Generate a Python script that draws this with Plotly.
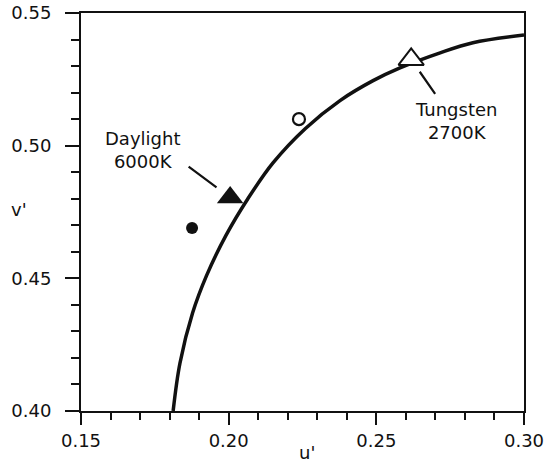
import plotly.graph_objects as go

# Planckian locus
locus_u = [0.1812, 0.1835, 0.1878, 0.1925, 0.1990, 0.2065, 0.2150, 0.2260, 0.2377,
           0.2489, 0.2580, 0.2716, 0.2827, 0.3000]
locus_v = [0.4000, 0.4180, 0.4370, 0.4510, 0.4660, 0.4800, 0.4935, 0.5065, 0.5170,
           0.5245, 0.5293, 0.5350, 0.5388, 0.5417]

# measured points
filled_circle = (0.1876, 0.469)
open_circle = (0.2238, 0.510)
daylight = (0.2005, 0.4805)
tungsten = (0.2618, 0.5325)

x_ticks = [0.15, 0.20, 0.25, 0.30]
x_tick_labels = ["0.15", "0.20", "0.25", "0.30"]
y_ticks = [0.40, 0.45, 0.50, 0.55]
y_tick_labels = ["0.40", "0.45", "0.50", "0.55"]

FONT = "DejaVu Sans"
BLACK = "#111111"

fig = go.Figure()
fig.add_trace(go.Scatter(x=locus_u, y=locus_v, mode="lines",
                         line=dict(color=BLACK, width=3.5, shape="spline", smoothing=1),
                         hoverinfo="skip", showlegend=False))
fig.add_trace(go.Scatter(x=[filled_circle[0]], y=[filled_circle[1]], mode="markers",
                         marker=dict(symbol="circle", size=12, color=BLACK),
                         showlegend=False))
fig.add_trace(go.Scatter(x=[open_circle[0]], y=[open_circle[1]], mode="markers",
                         marker=dict(symbol="circle-open", size=12, color=BLACK,
                                     line=dict(width=2.2, color=BLACK)),
                         showlegend=False))
fig.add_trace(go.Scatter(x=[daylight[0]], y=[daylight[1]], mode="markers",
                         marker=dict(symbol="triangle-up", size=23, color=BLACK),
                         showlegend=False))
fig.add_trace(go.Scatter(x=[tungsten[0]], y=[tungsten[1]], mode="markers",
                         marker=dict(symbol="triangle-up", size=22, color="white",
                                     line=dict(width=2, color=BLACK)),
                         showlegend=False))

axis_common = dict(
    showline=True, linewidth=2, linecolor=BLACK, mirror=True,
    ticks="outside", tickwidth=2, tickcolor=BLACK,
    showgrid=False, zeroline=False, automargin=False,
    tickfont=dict(family=FONT, size=18, color=BLACK),
)

fig.update_xaxes(range=[0.15, 0.30], tickvals=x_ticks, ticktext=x_tick_labels,
                 ticklen=12,
                 minor=dict(ticks="outside", ticklen=7, tickwidth=2, tickcolor=BLACK,
                            dtick=0.01, tick0=0.15, showgrid=False),
                 **axis_common)
fig.update_yaxes(range=[0.40, 0.55], tickvals=y_ticks, ticktext=y_tick_labels,
                 ticklen=14, ticklabelstandoff=10,
                 minor=dict(ticks="outside", ticklen=8, tickwidth=2, tickcolor=BLACK,
                            dtick=0.01, tick0=0.40, showgrid=False),
                 **axis_common)

def px_x(p):
    return (p - 81) / 443

def px_y(p):
    return (411 - p) / 398

label_font = dict(family=FONT, size=18, color=BLACK)
annots = [
    dict(text="Daylight<br>6000K", xref="paper", yref="paper",
         x=px_x(142), y=px_y(150), xanchor="center", yanchor="middle",
         showarrow=False, font=label_font),
    dict(text="Tungsten<br>2700K", xref="paper", yref="paper",
         x=px_x(456), y=px_y(121), xanchor="center", yanchor="middle",
         showarrow=False, font=label_font),
    dict(text="", x=daylight[0], y=daylight[1], xref="x", yref="y",
         showarrow=True, arrowhead=0, arrowwidth=2.2, arrowcolor=BLACK,
         ax=-43, ay=-32, standoff=17),
    dict(text="", x=tungsten[0], y=tungsten[1], xref="x", yref="y",
         showarrow=True, arrowhead=0, arrowwidth=2.2, arrowcolor=BLACK,
         ax=25, ay=36, standoff=15),
    dict(text="u'", xref="paper", yref="paper", x=px_x(307), y=px_y(453),
         xanchor="center", yanchor="middle", showarrow=False, font=label_font),
    dict(text="v'", xref="paper", yref="paper", x=px_x(19), y=px_y(209),
         xanchor="center", yanchor="middle", showarrow=False, font=label_font),
]

fig.update_layout(
    width=548, height=464,
    margin=dict(l=81, r=24, t=13, b=53),
    paper_bgcolor="white", plot_bgcolor="white",
    annotations=annots,
    font=dict(family=FONT, color=BLACK),
)

# remove the default 8px page margin so the figure fills the window exactly
fig.write_html("out.html",
               config={"displayModeBar": False},
               post_script="document.body.style.margin='0';"
                           "document.body.style.overflow='hidden';")
